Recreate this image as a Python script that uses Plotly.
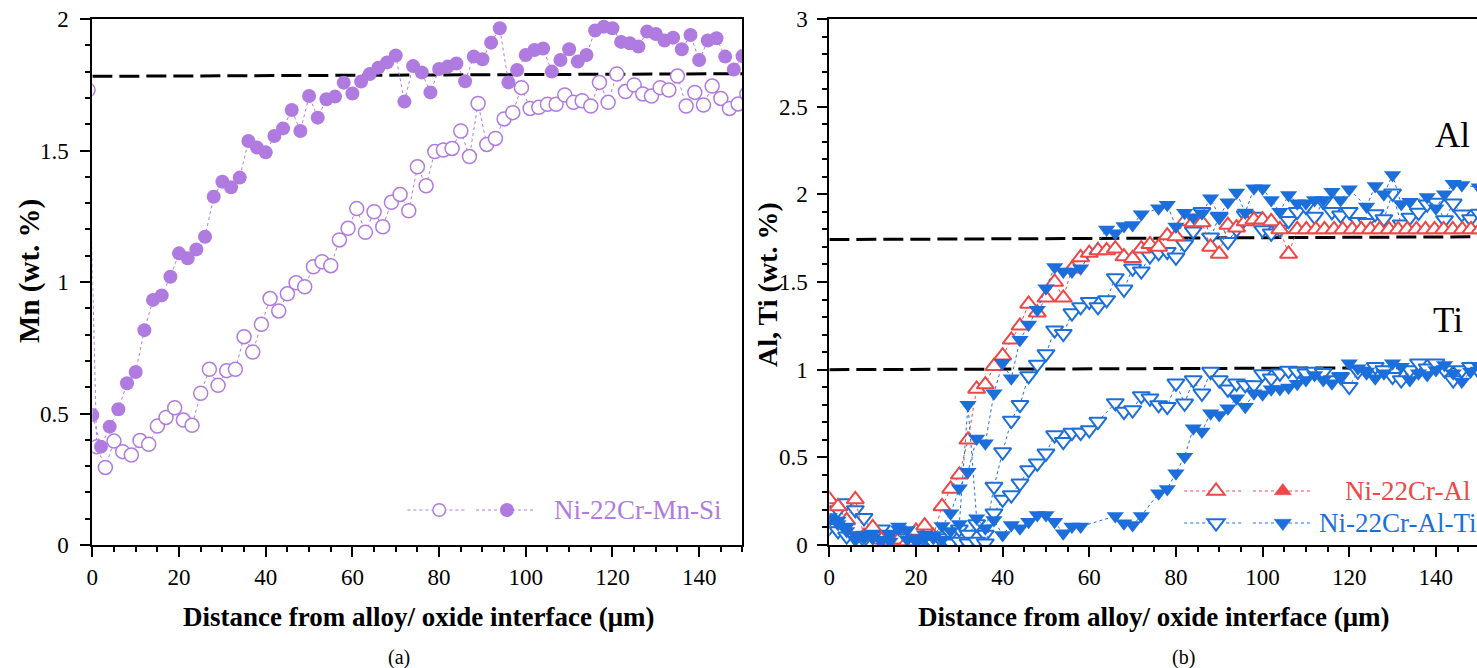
import plotly.graph_objects as go

# ---------------- data: panel (a) Mn ----------------
mn_filled_x = [0, 2, 4, 6, 8, 10, 12, 14, 16, 18, 20, 22, 24, 26, 28, 30, 32, 34, 36, 38,
               40, 42, 44, 46, 48, 50, 52, 54, 56, 58, 60, 62, 64, 66, 68, 70, 72, 74, 76, 78,
               80, 82, 84, 86, 88, 90, 92, 94, 96, 98, 100, 102, 104, 106, 108, 110, 112, 114,
               116, 118, 120, 122, 124, 126, 128, 130, 132, 134, 136, 138, 140, 142, 144, 146,
               148, 150]
mn_filled_y = [0.494, 0.374, 0.45, 0.516, 0.615, 0.658, 0.817, 0.932, 0.949, 1.02, 1.109, 1.09,
               1.124, 1.172, 1.324, 1.381, 1.36, 1.397, 1.536, 1.511, 1.493, 1.555, 1.584, 1.654,
               1.574, 1.707, 1.625, 1.695, 1.705, 1.758, 1.717, 1.762, 1.791, 1.815, 1.835, 1.861,
               1.686, 1.821, 1.797, 1.721, 1.81, 1.819, 1.831, 1.763, 1.857, 1.847, 1.91, 1.965,
               1.759, 1.806, 1.863, 1.882, 1.888, 1.8, 1.844, 1.885, 1.838, 1.863, 1.956, 1.971,
               1.965, 1.913, 1.908, 1.895, 1.952, 1.943, 1.918, 1.929, 1.885, 1.939, 1.844, 1.918,
               1.927, 1.857, 1.808, 1.859]
mn_open_x = [-1, 1, 3, 5, 7, 9, 11, 13, 15, 17, 19, 21, 23, 25, 27, 29, 31, 33, 35, 37, 39, 41,
             43, 45, 47, 49, 51, 53, 55, 57, 59, 61, 63, 65, 67, 69, 71, 73, 75, 77, 79, 81, 83,
             85, 87, 89, 91, 93, 95, 97, 99, 101, 103, 105, 107, 109, 111, 113, 115, 117, 119,
             121, 123, 125, 127, 129, 131, 133, 135, 137, 139, 141, 143, 145, 147, 149, 151]
mn_open_y = [1.73, 0.374, 0.295, 0.395, 0.355, 0.342, 0.397, 0.383, 0.452, 0.485, 0.522, 0.475,
             0.455, 0.577, 0.668, 0.607, 0.663, 0.668, 0.792, 0.734, 0.839, 0.937, 0.89, 0.955,
             0.997, 0.982, 1.058, 1.077, 1.062, 1.16, 1.204, 1.279, 1.189, 1.267, 1.21, 1.303,
             1.333, 1.271, 1.438, 1.366, 1.496, 1.502, 1.508, 1.574, 1.477, 1.679, 1.523, 1.546,
             1.62, 1.644, 1.739, 1.66, 1.664, 1.676, 1.676, 1.711, 1.683, 1.689, 1.669, 1.759,
             1.683, 1.791, 1.724, 1.749, 1.715, 1.707, 1.739, 1.73, 1.783, 1.669, 1.721, 1.673,
             1.745, 1.698, 1.66, 1.677, 1.715]
mn_ref_x = [0, 150]
mn_ref_y = [1.782, 1.792]

# ---------------- data: panel (b) Al, Ti ----------------
r_al_x = [0, 2, 4, 6, 8, 10, 12, 14, 16, 18, 20, 22, 24, 26, 28, 30, 32, 34, 36, 38, 40, 42,
          44, 46, 48, 50, 52, 54, 56, 58, 60, 62, 64, 66, 68, 70, 72, 74, 76, 78, 80, 82, 84,
          86, 88, 90, 92, 94, 96, 98, 100, 102, 104, 106, 108.0, 110.1, 112.3, 114.3, 116.5,
          118.5, 120.7, 122.8, 124.9, 127.0, 129.2, 131.3, 133.4, 135.5, 137.6, 139.7, 141.8,
          143.9, 146.1, 148.1, 150.2]
r_al_y = [0.26, 0.22, 0.14, 0.26, 0.05, 0.10, 0.03, 0.02, 0.03, 0.02, 0.08, 0.11, 0.05, 0.22,
          0.32, 0.40, 0.60, 0.89, 0.915, 1.02, 1.08, 1.17, 1.25, 1.375, 1.325, 1.41, 1.50, 1.41,
          1.575, 1.64, 1.665, 1.68, 1.68, 1.69, 1.645, 1.635, 1.69, 1.715, 1.70, 1.765, 1.76,
          1.845, 1.84, 1.84, 1.70, 1.66, 1.825, 1.81, 1.845, 1.855, 1.855, 1.845, 1.80, 1.66,
          1.80, 1.80, 1.80, 1.80, 1.80, 1.80, 1.80, 1.80, 1.80, 1.80, 1.80, 1.80, 1.80, 1.80,
          1.80, 1.80, 1.80, 1.80, 1.80, 1.80, 1.80]

bo_al_x = [0, 2, 4, 6, 8, 10, 12, 14, 16, 18, 20, 22, 24, 26, 28, 30, 32, 34, 36, 38, 40, 42,
           44, 46, 48, 50, 52, 54, 56, 58, 60, 62, 64, 66, 68, 70, 72, 74, 76, 78, 80, 82, 84,
           86, 88, 90, 92, 94, 96, 98, 100, 102, 104, 106, 108, 110, 112, 114, 116, 118, 120,
           122, 124, 126, 128, 130, 132, 134, 136, 138, 140, 142, 144, 146, 148, 150]
bo_al_y = [0.14, 0.20, 0.24, 0.20, 0.155, 0.07, 0.09, 0.06, 0.05, 0.04, 0.06, 0.03, 0.02, 0.04,
           0.065, 0.09, 0.06, 0.12, 0.06, 0.333, 0.53, 0.71, 0.80, 0.964, 1.03, 1.09, 1.225,
           1.205, 1.323, 1.358, 1.388, 1.358, 1.398, 1.523, 1.458, 1.578, 1.562, 1.648, 1.666,
           1.673, 1.641, 1.715, 1.79, 1.90, 1.755, 1.873, 1.73, 1.80, 1.882, 1.873, 1.797,
           1.778, 1.80, 1.85, 1.901, 1.93, 1.873, 1.958, 1.90, 1.88, 1.901, 1.844, 1.838, 1.888,
           1.86, 2.006, 1.83, 1.868, 1.896, 1.944, 1.953, 1.854, 1.949, 1.887, 1.86, 1.89]

bo_ti_x = [0, 2, 4, 6, 8, 10, 12, 14, 16, 18, 20, 22, 24, 26, 28, 30, 32, 34, 36, 38, 40, 42,
           44, 46, 48, 50, 52, 54, 56, 58, 60, 62, 66, 68, 70, 72, 74, 76, 78, 80, 82, 84, 86,
           88, 90, 92, 94, 96, 98, 100, 102, 104, 106, 108, 110, 112, 114, 116, 118, 120, 122,
           124, 126, 128, 130, 132, 134, 136, 138, 140, 142, 144, 146, 148, 150]
bo_ti_y = [0.10, 0.08, 0.05, 0.04, 0.03, 0.05, 0.02, 0.03, 0.02, 0.01, 0.02, 0.03, 0.01, 0.02,
           0.01, 0.02, 0.01, 0.02, 0.01, 0.181, 0.26, 0.285, 0.352, 0.428, 0.466, 0.523, 0.627,
           0.589, 0.641, 0.641, 0.656, 0.704, 0.81, 0.761, 0.77, 0.85, 0.837, 0.799, 0.789,
           0.922, 0.808, 0.941, 0.865, 0.989, 0.941, 0.888, 0.922, 0.913, 0.913, 0.975, 0.951,
           0.979, 0.995, 0.989, 0.979, 0.989, 0.983, 0.941, 0.96, 0.903, 0.99, 0.989, 1.017,
           0.998, 0.96, 0.941, 0.998, 1.036, 1.008, 1.036, 0.998, 0.941, 0.998, 1.017, 0.989]

bf_al_x = [0, 2, 4, 6, 8, 10, 12, 14, 16, 18, 20, 22, 24, 26, 28, 30, 32, 34, 36, 38, 40, 42,
           44, 46, 48, 50, 52, 54, 56, 58, 64, 66, 68, 70, 72, 76, 78, 80, 82, 84, 86, 88, 90,
           92, 94, 96, 98, 100, 102, 104, 106, 108, 110, 112, 114, 116, 118, 120, 124, 126,
           128, 130, 132, 134, 138, 140, 142, 144, 146, 150]
bf_al_y = [0.16, 0.14, 0.105, 0.057, 0.04, 0.066, 0.03, 0.02, 0.105, 0.086, 0.038, 0.038, 0.057,
           0.108, 0.181, 0.323, 0.418, 0.608, 0.58, 0.865, 1.04, 0.951, 1.17, 1.258, 1.342,
           1.464, 1.586, 1.56, 1.56, 1.578, 1.80, 1.778, 1.82, 1.825, 1.886, 1.92, 1.94, 1.816,
           1.895, 1.87, 1.892, 1.977, 1.873, 1.955, 2.01, 1.896, 2.034, 2.034, 1.968, 1.901,
           1.996, 1.949, 1.949, 1.968, 1.968, 2.015, 1.968, 2.029, 1.93, 2.048, 2.0, 2.11,
           1.945, 1.958, 1.985, 1.92, 2.0, 2.06, 2.053, 2.04]

bf_ti_x = [0, 2, 4, 6, 8, 10, 12, 14, 16, 18, 20, 22, 24, 26, 28, 30, 32, 34, 36, 38, 40, 42,
           44, 46, 48, 50, 52, 54, 56, 58, 66, 68, 70, 72, 76, 78, 80, 82, 84, 86, 88, 90, 92,
           94, 96, 98, 100, 102, 104, 106, 108, 110, 112, 114, 116, 118, 120, 122, 124, 126,
           128, 130, 132, 134, 136, 138, 140, 142, 144, 146, 148, 150]
bf_ti_y = [0.14, 0.12, 0.08, 0.03, 0.06, 0.04, 0.02, 0.06, 0.09, 0.03, 0.02, 0.06, 0.04, 0.03,
           0.08, 0.12, 0.80, 0.152, 0.095, 0.143, 0.057, 0.114, 0.095, 0.133, 0.171, 0.171,
           0.133, 0.067, 0.105, 0.105, 0.165, 0.124, 0.114, 0.166, 0.295, 0.32, 0.409, 0.504,
           0.666, 0.647, 0.751, 0.742, 0.78, 0.837, 0.789, 0.865, 0.86, 0.888, 0.89, 0.899,
           0.92, 0.941, 0.97, 0.941, 0.922, 0.96, 1.036, 1.008, 0.989, 0.951, 0.979, 1.036,
           1.017, 0.941, 0.979, 0.97, 0.998, 1.027, 0.979, 0.932, 0.989, 1.017]

al_ref_x = [0, 150]
al_ref_y = [1.742, 1.758]
ti_ref_x = [0, 150]
ti_ref_y = [1.0, 1.012]

xticks = [0, 20, 40, 60, 80, 100, 120, 140]

# ---------------- styling ----------------
W, H = 1477, 668
MT, MB = 19, 123
PURPLE = '#B07BE0'
RED = '#EF4646'
BLUE = '#1C6FDB'
SERIF = 'Liberation Serif, Times New Roman, serif'


def px2x(px):
    return px / W


def py2y(py):
    return (H - MB - py) / (H - MT - MB)


fig = go.Figure()


def series(x, y, xa, ya, color, symbol, size, hollow, lw=1.5):
    fig.add_trace(go.Scatter(
        x=x, y=y, xaxis=xa, yaxis=ya, mode='lines+markers', showlegend=False,
        line=dict(color=color, width=1, dash='dot'),
        marker=dict(symbol=symbol, size=size,
                    color='white' if hollow else color,
                    line=dict(color=color, width=lw if hollow else 0)),
        cliponaxis=True))


def ref(x, y, xa, ya):
    fig.add_trace(go.Scatter(x=x, y=y, xaxis=xa, yaxis=ya, mode='lines', showlegend=False,
                             line=dict(color='black', width=3, dash='20px,7px')))


# panel (a)
ref(mn_ref_x, mn_ref_y, 'x', 'y')
series(mn_open_x, mn_open_y, 'x', 'y', PURPLE, 'circle', 14, True)
series(mn_filled_x, mn_filled_y, 'x', 'y', PURPLE, 'circle', 14, False)

# panel (b)
TS = 15
ref(al_ref_x, al_ref_y, 'x2', 'y2')
ref(ti_ref_x, ti_ref_y, 'x2', 'y2')
series(bo_al_x, bo_al_y, 'x2', 'y2', BLUE, 'triangle-down', TS, True, 2)
series(bo_ti_x, bo_ti_y, 'x2', 'y2', BLUE, 'triangle-down', TS, True, 2)
series(r_al_x, r_al_y, 'x2', 'y2', RED, 'triangle-up', TS, True, 2)
series(bf_al_x, bf_al_y, 'x2', 'y2', BLUE, 'triangle-down', TS, False)
series(bf_ti_x, bf_ti_y, 'x2', 'y2', BLUE, 'triangle-down', TS, False)

axis_common = dict(showline=True, linewidth=2, linecolor='black', ticks='outside',
                   ticklen=10, tickwidth=2, tickcolor='black', showgrid=False,
                   zeroline=False, tickfont=dict(family=SERIF, size=23, color='black'))

fig.update_layout(
    width=W, height=H, margin=dict(l=0, r=0, t=MT, b=MB),
    paper_bgcolor='white', plot_bgcolor='white',
    font=dict(family=SERIF, color='black'),
    xaxis=dict(domain=[px2x(86.7), px2x(739.5)], range=[0, 150], anchor='y', mirror=True,
               tickvals=xticks, minor=dict(dtick=5, tick0=0, ticklen=5, tickwidth=2,
                                           ticks='outside', tickcolor='black'),
               **axis_common),
    yaxis=dict(domain=[0, 1], range=[0, 2], anchor='x', mirror=True, dtick=0.5, tick0=0,
               ticklabelstandoff=7,
               minor=dict(dtick=0.1, tick0=0, ticklen=5, tickwidth=2, ticks='outside',
                          tickcolor='black'),
               **axis_common),
    xaxis2=dict(domain=[px2x(826.7), 1.0], range=[0, (W - 826.7) / 4.35], anchor='y2',
                mirror=True, tickvals=xticks,
                minor=dict(dtick=5, tick0=0, ticklen=5, tickwidth=2, ticks='outside',
                           tickcolor='black'),
                **axis_common),
    yaxis2=dict(domain=[0, 1], range=[0, 3], anchor='x2', mirror=False, dtick=0.5, tick0=0,
                ticklabelstandoff=5,
                minor=dict(dtick=0.1, tick0=0, ticklen=5, tickwidth=2, ticks='outside',
                           tickcolor='black'),
                **axis_common),
)

annots = []


def text(t, px, py, size, color='black', bold=False, angle=0, xanchor='center'):
    annots.append(dict(text=('<b>%s</b>' % t) if bold else t, x=px2x(px), y=py2y(py),
                       xref='paper', yref='paper', showarrow=False, textangle=angle,
                       xanchor=xanchor, yanchor='middle',
                       font=dict(family=SERIF, size=size, color=color)))


text('Mn (wt. %)', 23, 271, 29, bold=True, angle=-90)
text('Al, Ti (wt. %)', 765, 284, 28, bold=True, angle=-90)
text('Distance from alloy/ oxide interface (\u03bcm)', 414, 617, 27, bold=True)
text('Distance from alloy/ oxide interface (\u03bcm)', 1152, 617, 27, bold=True)
text('(a)', 395, 657, 20)
text('(b)', 1182, 657, 20)
text('Al', 1452, 135, 35)
text('Ti', 1448, 320, 35)
text('Ni-22Cr-Mn-Si', 548, 510, 27, color=PURPLE, xanchor='left')
text('Ni-22Cr-Al', 1472, 491, 27, color=RED, xanchor='right')
text('Ni-22Cr-Al-Ti', 1478, 523, 27, color=BLUE, xanchor='right')

shapes = []


def dotted(px0, px1, py, color):
    shapes.append(dict(type='line', xref='paper', yref='paper', x0=px2x(px0), x1=px2x(px1),
                       y0=py2y(py), y1=py2y(py), line=dict(color=color, width=1, dash='dot')))


def glyph_circle(px, py, color, hollow, r=6.3):
    shapes.append(dict(type='circle', xref='paper', yref='paper', xsizemode='pixel',
                       ysizemode='pixel', xanchor=px2x(px), yanchor=py2y(py),
                       x0=-r, x1=r, y0=-r, y1=r,
                       fillcolor='white' if hollow else color,
                       line=dict(color=color, width=1.5)))


def glyph_tri(px, py, color, hollow, up=True, r=7.5):
    rt = r * 2 / 3 ** 0.5
    if up:
        path = 'M%.2f,%.2f L%.2f,%.2f L0,%.2f Z' % (-rt, -r / 2, rt, -r / 2, r)
    else:
        path = 'M%.2f,%.2f L%.2f,%.2f L0,%.2f Z' % (-rt, r / 2, rt, r / 2, -r)
    shapes.append(dict(type='path', xref='paper', yref='paper', xsizemode='pixel',
                       ysizemode='pixel', xanchor=px2x(px), yanchor=py2y(py), path=path,
                       fillcolor='white' if hollow else color,
                       line=dict(color=color, width=2 if hollow else 0.5)))


# legend (a)
dotted(403, 463, 510, PURPLE)
dotted(472, 532, 510, PURPLE)
glyph_circle(435, 510, PURPLE, True)
glyph_circle(503, 510, PURPLE, False)

# legend (b)
for py, col, up in [(491, RED, True), (523, BLUE, False)]:
    dotted(1183, 1243, py, col)
    dotted(1252, 1310, py, col)
    glyph_tri(1215, py, col, True, up)
    glyph_tri(1282, py, col, False, up)

fig.update_layout(annotations=annots, shapes=shapes)

fig.write_html('out.html')
